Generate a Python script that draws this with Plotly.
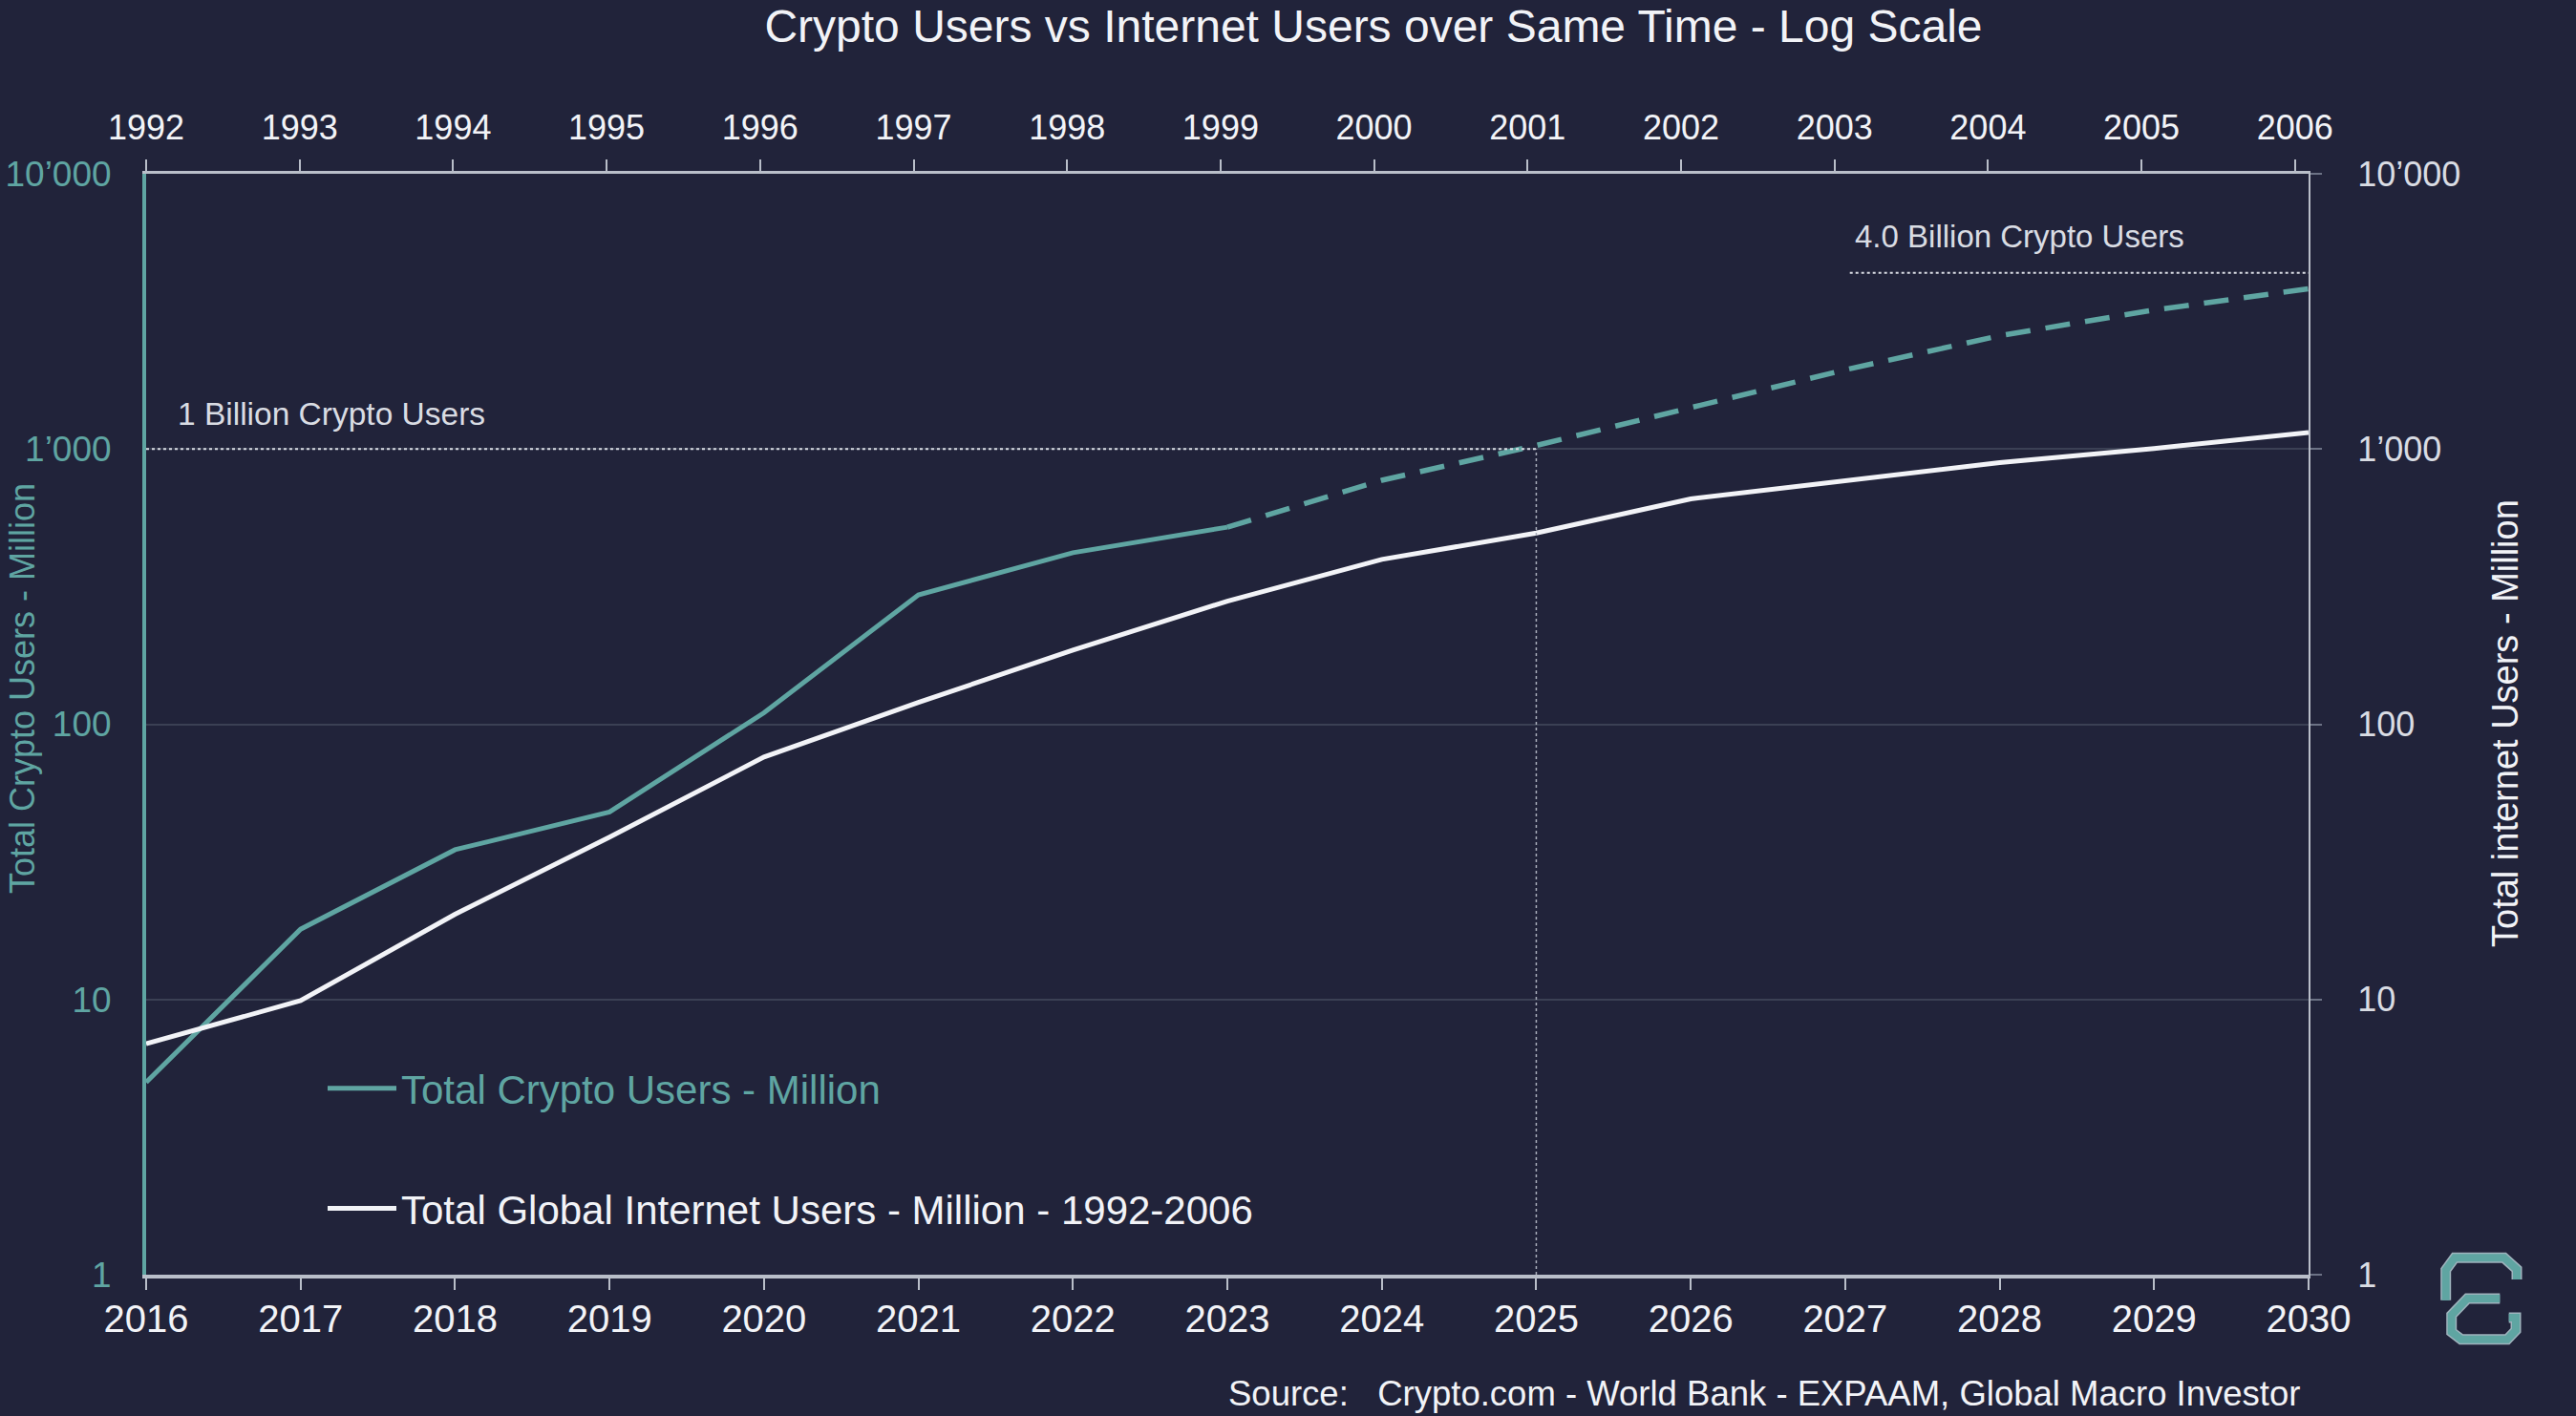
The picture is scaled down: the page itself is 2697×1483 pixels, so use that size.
import plotly.graph_objects as go

# ---------------- data ----------------
chart_years = list(range(2016, 2031))
crypto_actual_years = list(range(2016, 2024))
crypto_actual = [5.0, 18, 35, 48, 110, 295, 420, 520]
crypto_proj_years = list(range(2023, 2031))
crypto_proj = [520, 770, 1030, 1410, 1940, 2580, 3200, 3820]
internet_years = list(range(1992, 2007))
internet_users = [6.9, 9.9, 20.4, 38.9, 76, 120, 186, 280, 397, 495, 659, 768, 892, 1004, 1148]
y_tickvals = [1, 10, 100, 1000, 10000]
y_ticktext = ["1", "10", "100", "1\u2019000", "10\u2019000"]
one_billion = 1000
four_billion_line = 4370

# ---------------- style ----------------
W, H = 2697, 1483
L, R, T, B = 153, 2417, 182, 1335
BG = "#21233a"
TEAL = "#5fa5a2"
WHITE = "#f2f3f7"
LIGHT = "#d9dce3"
AXIS = "#b9bec9"
GRID = "#3b4054"
FONT = "Liberation Sans, Arial, Helvetica, sans-serif"


def px(xp, yp):
    return (xp - L) / (R - L), (B - yp) / (B - T)


fig = go.Figure()

fig.add_trace(go.Scatter(
    x=crypto_actual_years, y=crypto_actual, mode="lines",
    line=dict(color=TEAL, width=5),
    name="<span style='color:%s'>Total Crypto Users - Million</span>" % TEAL,
    legendgroup="a", xaxis="x", yaxis="y"))
fig.add_trace(go.Scatter(
    x=crypto_proj_years, y=crypto_proj, mode="lines",
    line=dict(color=TEAL, width=5.5, dash="26px,16px"),
    showlegend=False, xaxis="x", yaxis="y"))
fig.add_trace(go.Scatter(
    x=chart_years, y=internet_users, mode="lines",
    line=dict(color=WHITE, width=5),
    name="<span style='color:%s'>Total Global Internet Users - Million - 1992-2006</span>" % WHITE,
    legendgroup="b", xaxis="x", yaxis="y2"))
# same internet series on its own calendar (top axis), invisible
fig.add_trace(go.Scatter(
    x=internet_years, y=internet_users, mode="lines",
    line=dict(color="rgba(0,0,0,0)", width=0),
    showlegend=False, hoverinfo="skip", xaxis="x2", yaxis="y2"))

fig.update_layout(
    width=W, height=H,
    margin=dict(l=L, r=W - R, t=T, b=H - B, autoexpand=False),
    paper_bgcolor=BG, plot_bgcolor=BG,
    font=dict(family=FONT, color=LIGHT),
    title=dict(text="Crypto Users vs Internet Users over Same Time - Log Scale",
               x=1438 / W, xanchor="center", xref="container",
               y=1 - 27 / H, yanchor="middle", yref="container",
               font=dict(size=48, color=WHITE, family=FONT)),
    showlegend=True,
    legend=dict(x=px(338, 0)[0], xanchor="left", y=px(0, 1106)[1], yanchor="top",
                bgcolor="rgba(0,0,0,0)", font=dict(size=42, family=FONT),
                traceorder="grouped", tracegroupgap=68, itemwidth=72),
    xaxis=dict(range=[2016, 2030], tickvals=chart_years, showgrid=False, zeroline=False,
               automargin=False,
               showline=True, linecolor=AXIS, linewidth=4,
               ticks="outside", ticklen=12, tickwidth=2, tickcolor=AXIS,
               ticklabelstandoff=-4,
               tickfont=dict(size=40, color=WHITE)),
    xaxis2=dict(range=[1992, 1992 + (R - L) / 160.7], tickvals=internet_years,
                overlaying="x", side="top", showgrid=False, zeroline=False,
                automargin=False,
                showline=True, linecolor=AXIS, linewidth=3,
                ticks="outside", ticklen=12, tickwidth=2, tickcolor=AXIS,
                ticklabelstandoff=7,
                tickfont=dict(size=36, color=WHITE)),
    yaxis=dict(type="log", range=[0, 4], tickvals=y_tickvals, ticktext=y_ticktext,
               showgrid=True, gridcolor=GRID, gridwidth=1.5, zeroline=False,
               automargin=False,
               showline=True, linecolor=TEAL, linewidth=4, ticks="",
               ticklabelstandoff=25,
               tickfont=dict(size=37, color=TEAL)),
    yaxis2=dict(type="log", range=[0, 4], tickvals=y_tickvals, ticktext=y_ticktext,
                overlaying="y", side="right", showgrid=False, zeroline=False,
                automargin=False,
                showline=True, linecolor=AXIS, linewidth=2,
                ticks="outside", ticklen=12, tickwidth=1.5, tickcolor="#6c7285",
                ticklabelstandoff=30,
                tickfont=dict(size=36, color=LIGHT)),
)

# reference lines
fig.add_shape(type="line", xref="x", yref="y", x0=2016, x1=2025, y0=one_billion, y1=one_billion,
              line=dict(color=LIGHT, width=2, dash="dot"))
fig.add_shape(type="line", xref="x", yref="y", x0=2025, x1=2025, y0=1, y1=one_billion,
              line=dict(color="#a9aebb", width=1.5, dash="dot"))
fig.add_shape(type="line", xref="x", yref="y", x0=2027.03, x1=2030, y0=four_billion_line,
              y1=four_billion_line, line=dict(color=LIGHT, width=2, dash="dot"))

# annotations
def ann(text, xp, yp, size, color=LIGHT, xanchor="left", angle=0):
    x, y = px(xp, yp)
    fig.add_annotation(text=text, x=x, y=y, xref="paper", yref="paper", showarrow=False,
                       xanchor=xanchor, yanchor="middle", textangle=angle,
                       font=dict(size=size, color=color, family=FONT))

ann("1 Billion Crypto Users", 184, 433, 33.5)
ann("4.0 Billion Crypto Users", 1940, 248, 33)
ann("Source:\u00a0\u00a0\u00a0Crypto.com - World Bank - EXPAAM, Global Macro Investor", 2410, 1459, 36.5,
    color=WHITE, xanchor="right")
ann("Total Crypto Users - Million", 24, 721, 36, color=TEAL, xanchor="center", angle=-90)
ann("Total internet Users - Million", 2623, 758, 38, color=WHITE, xanchor="center", angle=-90)

# logo (decorative)
def path(points):
    s = ""
    for i, (a, b) in enumerate(points):
        x, y = px(a, b)
        s += ("M" if i == 0 else "L") + "%.5f,%.5f " % (x, y)
    return s

logo_top = [(2560.7, 1361.7), (2560.7, 1330), (2570, 1317.3), (2621.7, 1317.3), (2635, 1329.3), (2635, 1340)]
logo_bot = [(2617.3, 1360), (2583.3, 1360), (2566.7, 1377.3), (2566.7, 1395), (2576.7, 1402.7),
            (2625, 1402.7), (2634, 1393.3), (2634, 1380), (2626.7, 1380)]
for pts in (logo_top, logo_bot):
    fig.add_shape(type="path", xref="paper", yref="paper", path=path(pts),
                  line=dict(color="#9fb3bd", width=11))
    fig.add_shape(type="path", xref="paper", yref="paper", path=path(pts),
                  line=dict(color=TEAL, width=8))

fig.write_html("out.html", config={"displayModeBar": False},
               post_script="document.body.style.margin='0';")
